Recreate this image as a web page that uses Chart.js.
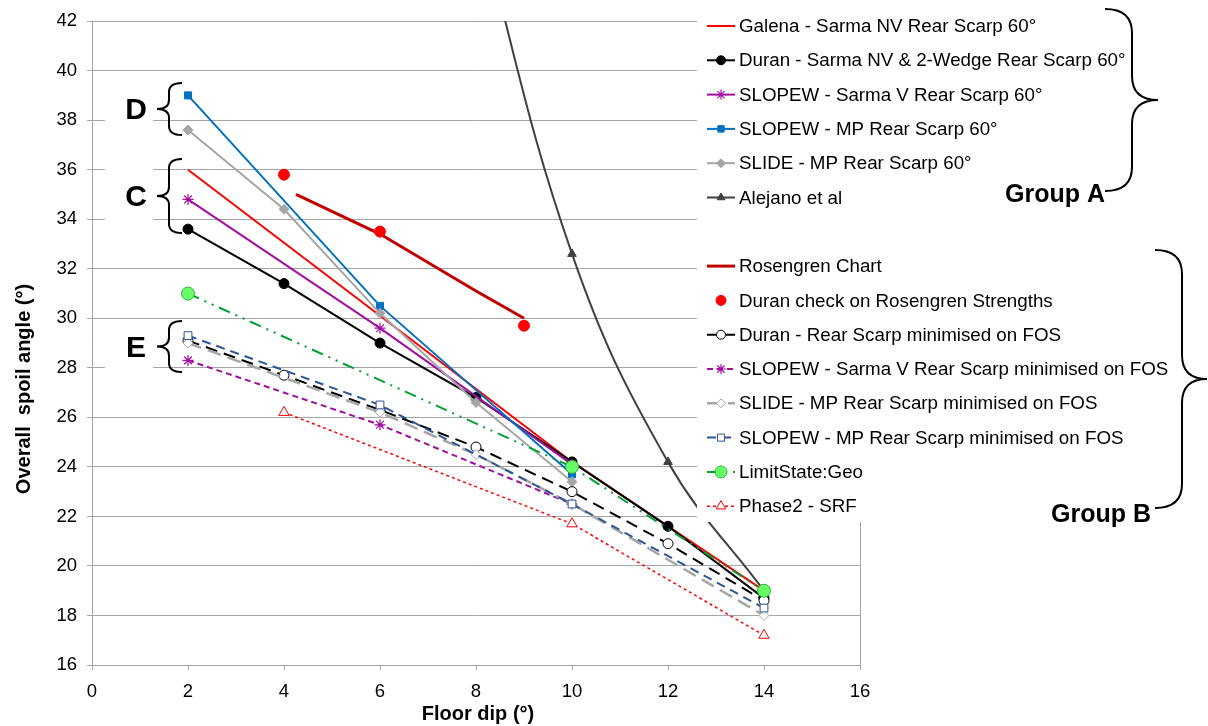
<!DOCTYPE html>
<html>
<head>
<meta charset="utf-8">
<script src="https://cdn.jsdelivr.net/npm/chart.js"></script>
<style>
  html, body { margin: 0; padding: 0; background: #fff; }
  #wrap { width: 1208px; height: 726px; }
</style>
</head>
<body>
<div id="wrap"><canvas id="chart" width="1208" height="726"></canvas></div>
<script>
// values (floor dip in degrees -> overall spoil angle in degrees)
const galenaX = [2, 6, 10, 14];
const galenaY = [36.0, 30.1, 24.2, 19.0];

const duranSarmaX = [2, 4, 6, 8, 10, 12, 14];
const duranSarmaY = [33.6, 31.4, 29.0, 26.8, 24.2, 21.6, 18.7];

const slopewSarmaX = [2, 6, 10];
const slopewSarmaY = [34.8, 29.6, 24.1];

const slopewMpX = [2, 6, 10];
const slopewMpY = [39.0, 30.5, 23.7];

const slideMpX = [2, 4, 6, 8, 10];
const slideMpY = [37.6, 34.4, 30.2, 26.6, 23.4];

const alejanoX = [8, 10, 12, 14];
const alejanoY = [46.5, 32.6, 24.2, 19.0];

const rosengrenX = [4.25, 6, 8, 9];
const rosengrenY = [35.0, 33.4, 31.1, 30.0];

const duranCheckX = [4, 6, 9];
const duranCheckY = [35.8, 33.5, 29.7];

const duranMinX = [2, 4, 6, 8, 10, 12, 14];
const duranMinY = [29.1, 27.7, 26.3, 24.8, 23.0, 20.9, 18.6];

const slopewSarmaMinX = [2, 6, 10];
const slopewSarmaMinY = [28.3, 25.7, 22.5];

const slideMpMinX = [2, 6, 8, 10, 14];
const slideMpMinY = [29.0, 26.2, 24.5, 22.5, 18.0];

const slopewMpMinX = [2, 6, 10, 14];
const slopewMpMinY = [29.3, 26.5, 22.5, 18.3];

const limitStateX = [2, 10, 14];
const limitStateY = [31.0, 24.0, 19.0];

const phase2X = [4, 10, 14];
const phase2Y = [26.2, 21.7, 17.2];

const xTicks = [0, 2, 4, 6, 8, 10, 12, 14, 16];
const yTicks = [16, 18, 20, 22, 24, 26, 28, 30, 32, 34, 36, 38, 40, 42];

const pts = (xs, ys) => xs.map((x, i) => ({ x: x, y: ys[i] }));

const FONT = "'Liberation Sans', Arial, sans-serif";
const GRID = '#a6a6a6';

const series = [
  { label: 'Galena - Sarma NV Rear Scarp 60°', data: pts(galenaX, galenaY),
    borderColor: '#ff0000', borderWidth: 2, pointRadius: 0, pointStyle: false, legendRow: 0 },
  { label: 'Duran - Sarma NV & 2-Wedge Rear Scarp 60°', data: pts(duranSarmaX, duranSarmaY),
    borderColor: '#000000', backgroundColor: '#000000', borderWidth: 2,
    pointStyle: 'circle', pointRadius: 5, pointBorderWidth: 1, legendRow: 1 },
  { label: 'SLOPEW - Sarma V Rear Scarp 60°', data: pts(slopewSarmaX, slopewSarmaY),
    borderColor: '#a0109e', backgroundColor: '#a0109e', borderWidth: 2,
    pointStyle: 'star', pointRadius: 5.5, pointBorderWidth: 1.2, legendRow: 2 },
  { label: 'SLOPEW - MP Rear Scarp 60°', data: pts(slopewMpX, slopewMpY),
    borderColor: '#0070c0', backgroundColor: '#0070c0', borderWidth: 2,
    pointStyle: 'rect', pointRadius: 5, pointBorderWidth: 1, legendRow: 3 },
  { label: 'SLIDE - MP Rear Scarp 60°', data: pts(slideMpX, slideMpY),
    borderColor: '#a6a6a6', backgroundColor: '#a6a6a6', borderWidth: 2,
    pointStyle: 'rectRot', pointRadius: 5, pointBorderWidth: 1, legendRow: 4 },
  { label: 'Alejano et al', data: pts(alejanoX, alejanoY),
    borderColor: '#404040', backgroundColor: '#404040', borderWidth: 2, tension: 0.4,
    capBezierPoints: false, pointStyle: 'triangle', pointRadius: 5, pointBorderWidth: 1, legendRow: 5 },
  { label: 'Rosengren Chart', data: pts(rosengrenX, rosengrenY),
    borderColor: '#c00000', borderWidth: 3, pointRadius: 0, pointStyle: false, legendRow: 7 },
  { label: 'Duran check on Rosengren Strengths', data: pts(duranCheckX, duranCheckY),
    borderColor: '#ff0000', backgroundColor: '#ff0000', showLine: false,
    pointStyle: 'circle', pointRadius: 5.5, pointBorderWidth: 1, legendRow: 8 },
  { label: 'Duran - Rear Scarp minimised on FOS', data: pts(duranMinX, duranMinY),
    borderColor: '#000000', backgroundColor: '#ffffff', borderWidth: 2, borderDash: [12, 7],
    pointStyle: 'circle', pointRadius: 5, pointBorderWidth: 1, legendRow: 9 },
  { label: 'SLOPEW - Sarma V Rear Scarp minimised on FOS', data: pts(slopewSarmaMinX, slopewSarmaMinY),
    borderColor: '#a0109e', backgroundColor: '#a0109e', borderWidth: 2, borderDash: [6, 4],
    pointStyle: 'star', pointRadius: 5.5, pointBorderWidth: 1.2, legendRow: 10 },
  { label: 'SLIDE - MP Rear Scarp minimised on FOS', data: pts(slideMpMinX, slideMpMinY),
    borderColor: '#a6a6a6', backgroundColor: '#ffffff', borderWidth: 2.5, borderDash: [14, 7],
    pointStyle: 'rectRot', pointRadius: 5, pointBorderWidth: 1, legendRow: 11 },
  { label: 'SLOPEW - MP Rear Scarp minimised on FOS', data: pts(slopewMpMinX, slopewMpMinY),
    borderColor: '#2f5597', backgroundColor: '#ffffff', borderWidth: 2, borderDash: [9, 6],
    pointStyle: 'rect', pointRadius: 5.5, pointBorderWidth: 1, legendRow: 12 },
  { label: 'LimitState:Geo', data: pts(limitStateX, limitStateY),
    borderColor: '#00a030', backgroundColor: '#66ff66', pointBorderColor: '#30b040', borderWidth: 2,
    borderDash: [12, 6, 2, 6, 2, 6], pointStyle: 'circle', pointRadius: 6.5, pointBorderWidth: 1, legendRow: 13 },
  { label: 'Phase2 - SRF', data: pts(phase2X, phase2Y),
    borderColor: '#ff0000', backgroundColor: '#ffffff', borderWidth: 1.5, borderDash: [3, 3],
    pointStyle: 'triangle', pointRadius: 6, pointBorderWidth: 1, legendRow: 14 }
];

// later series sit on top, like the original
const datasets = series.map((s, i) => Object.assign({ fill: false, order: series.length - i }, s));

function drawBrace(ctx, endX, bodyX, tipX, yTop, yBot, r) {
  const yMid = (yTop + yBot) / 2;
  ctx.beginPath();
  ctx.moveTo(endX, yTop);
  ctx.quadraticCurveTo(bodyX, yTop, bodyX, yTop + r);
  ctx.lineTo(bodyX, yMid - r);
  ctx.quadraticCurveTo(bodyX, yMid, tipX, yMid);
  ctx.quadraticCurveTo(bodyX, yMid, bodyX, yMid + r);
  ctx.lineTo(bodyX, yBot - r);
  ctx.quadraticCurveTo(bodyX, yBot, endX, yBot);
  ctx.stroke();
}

function drawMarker(ctx, s, x, y) {
  if (!s.pointStyle) return;
  ctx.save();
  ctx.setLineDash([]);
  ctx.fillStyle = s.backgroundColor;
  ctx.strokeStyle = s.pointBorderColor || s.borderColor;
  ctx.lineWidth = s.pointBorderWidth || 1;
  Chart.helpers.drawPoint(ctx, {
    pointStyle: s.pointStyle, rotation: 0,
    radius: Math.max(s.pointRadius - 0.5, 3), borderWidth: ctx.lineWidth
  }, x, y);
  ctx.restore();
}

const decorations = {
  id: 'decorations',
  afterDraw(chart) {
    const ctx = chart.ctx;
    const area = chart.chartArea;
    ctx.save();

    // right edge of the plot frame
    ctx.strokeStyle = GRID;
    ctx.lineWidth = 1;
    ctx.beginPath();
    ctx.moveTo(area.right + 0.5, area.top);
    ctx.lineTo(area.right + 0.5, area.bottom);
    ctx.stroke();

    // legend sits over the right part of the plot
    ctx.fillStyle = '#ffffff';
    ctx.fillRect(697, 0, 1208 - 697, 522);

    const rowY = i => 26 + i * 34.3;
    ctx.font = '18.75px ' + FONT;
    ctx.textBaseline = 'middle';
    ctx.textAlign = 'left';
    series.forEach(s => {
      const y = rowY(s.legendRow);
      if (s.showLine !== false) {
        ctx.save();
        ctx.strokeStyle = s.borderColor;
        ctx.lineWidth = s.borderWidth;
        ctx.setLineDash(s.borderDash || []);
        ctx.beginPath();
        ctx.moveTo(707, y);
        ctx.lineTo(735, y);
        ctx.stroke();
        ctx.restore();
      }
      drawMarker(ctx, s, 721, y);
      ctx.fillStyle = '#000000';
      ctx.fillText(s.label, 739, y + 1);
    });

    // group braces
    ctx.strokeStyle = '#000000';
    ctx.lineWidth = 2;
    drawBrace(ctx, 1105, 1132, 1158, 9, 191, 24);
    drawBrace(ctx, 1155, 1182, 1207, 250, 508, 24);

    ctx.fillStyle = '#000000';
    ctx.font = 'bold 25px ' + FONT;
    ctx.textAlign = 'center';
    ctx.fillText('Group A', 1055, 195);
    ctx.fillText('Group B', 1101, 515);

    // D / C / E labels with their braces
    const tags = [
      { t: 'D', yTop: 83, yBot: 135, boxTop: 88, boxBot: 132 },
      { t: 'C', yTop: 159, yBot: 233, boxTop: 160, boxBot: 232 },
      { t: 'E', yTop: 321, yBot: 372, boxTop: 326, boxBot: 370 }
    ];
    tags.forEach(g => {
      ctx.fillStyle = '#ffffff';
      ctx.fillRect(105, g.boxTop, 48, g.boxBot - g.boxTop);
      ctx.strokeStyle = '#000000';
      ctx.lineWidth = 2;
      drawBrace(ctx, 182, 169, 157, g.yTop, g.yBot, 9);
      ctx.fillStyle = '#000000';
      ctx.font = 'bold 30px ' + FONT;
      ctx.textAlign = 'center';
      ctx.fillText(g.t, 136, (g.yTop + g.yBot) / 2 + 2);
    });

    // axis titles
    ctx.font = 'bold 20px ' + FONT;
    ctx.fillStyle = '#000000';
    ctx.textAlign = 'center';
    ctx.fillText('Floor dip (°)', 478, 714);
    ctx.translate(24, 389);
    ctx.rotate(-Math.PI / 2);
    ctx.fillText('Overall  spoil angle (°)', 0, 0);

    ctx.restore();
  }
};

new Chart(document.getElementById('chart'), {
  type: 'line',
  data: { datasets: datasets },
  plugins: [decorations],
  options: {
    responsive: false,
    animation: false,
    layout: { padding: { left: 0, top: 20, right: 348, bottom: 0 } },
    plugins: { legend: { display: false }, tooltip: { enabled: false } },
    scales: {
      x: {
        type: 'linear', min: 0, max: 16,
        afterFit: s => { s.height = 61; },
        afterBuildTicks: s => { s.ticks = xTicks.map(v => ({ value: v })); },
        grid: { drawOnChartArea: false, drawTicks: true, tickLength: 5, color: GRID },
        border: { color: GRID },
        ticks: { color: '#000', padding: 11, font: { family: FONT, size: 18.5 }, maxRotation: 0 }
      },
      y: {
        type: 'linear', min: 16, max: 42,
        afterFit: s => { s.width = 92; },
        afterBuildTicks: s => { s.ticks = yTicks.map(v => ({ value: v })); },
        grid: { color: GRID, tickLength: 5 },
        border: { color: GRID },
        ticks: { color: '#000', padding: 10, font: { family: FONT, size: 18.5 } }
      }
    }
  }
});
</script>
</body>
</html>
